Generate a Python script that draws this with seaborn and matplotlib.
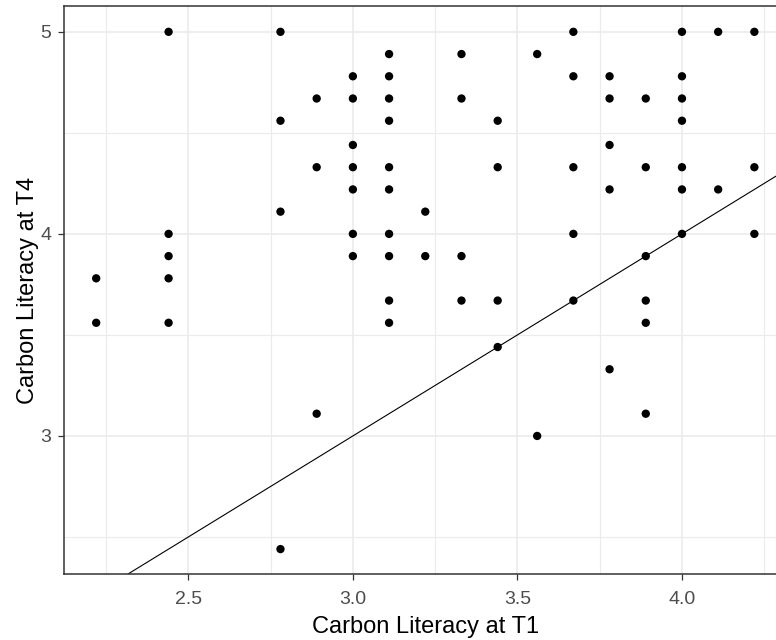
import matplotlib
matplotlib.use("Agg")
import matplotlib.pyplot as plt
import seaborn as sns
import pandas as pd

# Carbon literacy scores, one entry per participant (T1 and T4)
t1 = [2.22, 2.22,
      2.44, 2.44, 2.44, 2.44, 2.44,
      2.78, 2.78, 2.78, 2.78,
      2.89, 2.89, 2.89,
      3.00, 3.00, 3.00, 3.00, 3.00, 3.00, 3.00,
      3.11, 3.11, 3.11, 3.11, 3.11, 3.11, 3.11, 3.11, 3.11, 3.11,
      3.22, 3.22,
      3.33, 3.33, 3.33, 3.33,
      3.44, 3.44, 3.44, 3.44,
      3.56, 3.56,
      3.67, 3.67, 3.67, 3.67, 3.67,
      3.78, 3.78, 3.78, 3.78, 3.78,
      3.89, 3.89, 3.89, 3.89, 3.89, 3.89,
      4.00, 4.00, 4.00, 4.00, 4.00, 4.00, 4.00,
      4.11, 4.11,
      4.22, 4.22, 4.22]
t4 = [3.78, 3.56,
      5.00, 4.00, 3.89, 3.78, 3.56,
      5.00, 4.56, 4.11, 2.44,
      4.67, 4.33, 3.11,
      4.78, 4.67, 4.44, 4.33, 4.22, 4.00, 3.89,
      4.89, 4.78, 4.67, 4.56, 4.33, 4.22, 4.00, 3.89, 3.67, 3.56,
      4.11, 3.89,
      4.89, 4.67, 3.89, 3.67,
      4.56, 4.33, 3.67, 3.44,
      4.89, 3.00,
      5.00, 4.78, 4.33, 4.00, 3.67,
      4.78, 4.67, 4.44, 4.22, 3.33,
      4.67, 4.33, 3.89, 3.67, 3.56, 3.11,
      5.00, 4.78, 4.67, 4.56, 4.33, 4.22, 4.00,
      5.00, 4.22,
      5.00, 4.33, 4.00]

x_ticks = [2.5, 3.0, 3.5, 4.0]
x_minor = [2.25, 2.75, 3.25, 3.75, 4.25]
y_ticks = [3, 4, 5]
y_minor = [2.5, 3.5, 4.5]

df = pd.DataFrame({"T1": t1, "T4": t4})

sns.set_theme(style="white")
plt.rcParams["font.family"] = ["Liberation Sans", "DejaVu Sans"]

fig = plt.figure(figsize=(7.76, 6.4), dpi=100)
# panel runs a little past the right edge, like the cropped original
ax = fig.add_axes([64 / 776, 66 / 640, 724 / 776, 568 / 640])

ax.set_xlim(2.1222, 4.3222)
ax.set_ylim(2.3167, 5.1278)

ax.set_xticks(x_ticks)
ax.set_xticklabels(["2.5", "3.0", "3.5", "4.0"])
ax.set_yticks(y_ticks)
ax.set_yticklabels(["3", "4", "5"])
ax.set_xticks(x_minor, minor=True)
ax.set_yticks(y_minor, minor=True)

ax.grid(which="major", color="#EBEBEB", linewidth=1.2)
ax.grid(which="minor", color="#EBEBEB", linewidth=0.8)
ax.set_axisbelow(True)

for s in ax.spines.values():
    s.set_color("#333333")
    s.set_linewidth(1.1)

ax.tick_params(which="major", direction="out", length=4, width=0.9, color="#333333",
               labelsize=14, labelcolor="#4D4D4D", pad=5, bottom=True, left=True)
ax.tick_params(axis="x", which="major", pad=8)
ax.tick_params(which="minor", length=0)

sns.scatterplot(data=df, x="T1", y="T4", ax=ax, color="black", s=36,
                edgecolor="none", linewidth=0)
ax.axline((3.0, 3.0), slope=1, color="black", linewidth=0.8)

ax.set_xlabel("Carbon Literacy at T1", fontsize=17, color="black", labelpad=6)
ax.set_ylabel("Carbon Literacy at T4", fontsize=17, color="black", labelpad=1)

fig.savefig("out.png", dpi=100)
